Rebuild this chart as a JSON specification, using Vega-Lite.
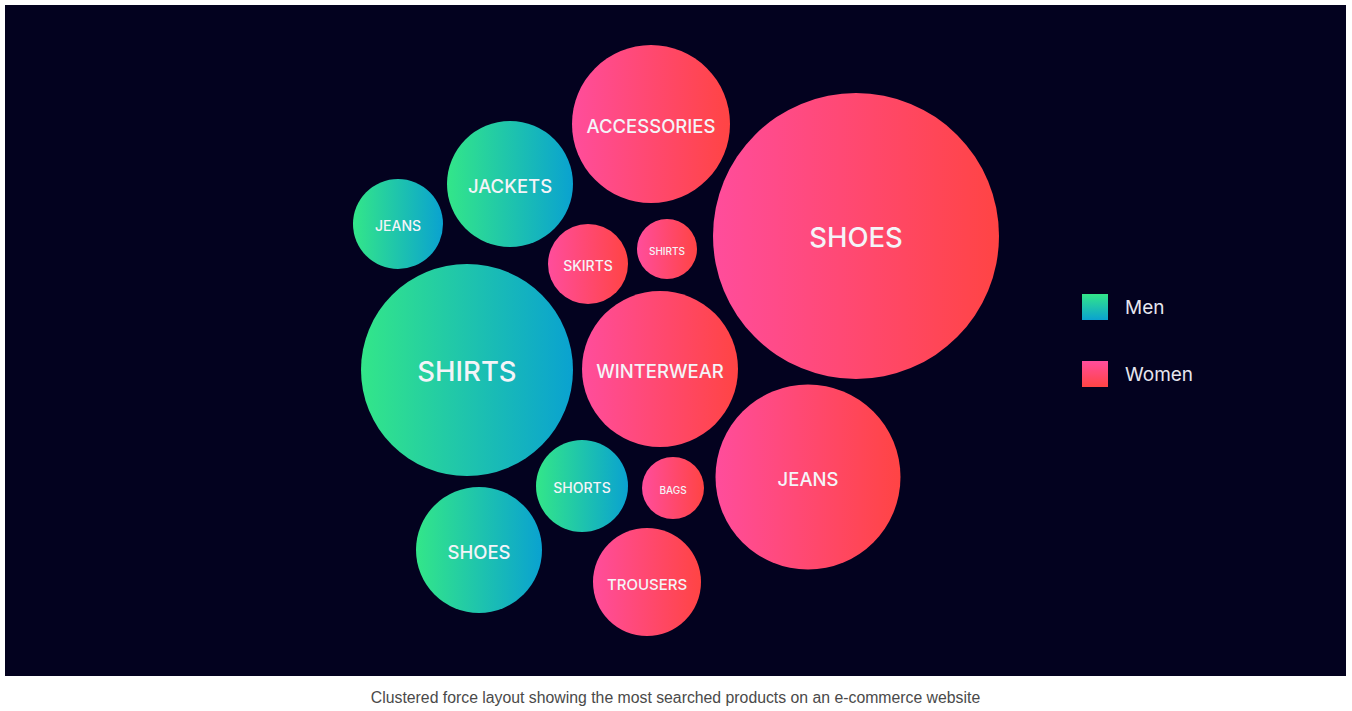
{
  "$schema": "https://vega.github.io/schema/vega-lite/v6.json",
  "width": 1341,
  "height": 671,
  "autosize": {"type": "none"},
  "padding": {"left": 5, "top": 5, "right": 6, "bottom": 35},
  "background": "#ffffff",
  "view": {"fill": "#03021f", "stroke": null},
  "title": {
    "text": "Clustered force layout showing the most searched products on an e-commerce website",
    "orient": "bottom",
    "anchor": "middle",
    "offset": 15,
    "font": "Liberation Sans",
    "fontSize": 15.8,
    "fontWeight": "normal",
    "color": "#4a4a4a"
  },
  "data": {
    "values": [
      {"gender": "Women", "product": "ACCESSORIES", "x": 651, "y": 124, "r": 79},
      {"gender": "Women", "product": "SHOES", "x": 856, "y": 236, "r": 143},
      {"gender": "Men", "product": "JACKETS", "x": 510, "y": 184, "r": 63},
      {"gender": "Men", "product": "JEANS", "x": 398, "y": 224, "r": 45},
      {"gender": "Women", "product": "SKIRTS", "x": 588, "y": 264, "r": 40},
      {"gender": "Women", "product": "SHIRTS", "x": 667, "y": 249, "r": 30},
      {"gender": "Men", "product": "SHIRTS", "x": 467, "y": 370, "r": 106},
      {"gender": "Women", "product": "WINTERWEAR", "x": 660, "y": 369, "r": 78},
      {"gender": "Women", "product": "JEANS", "x": 808, "y": 477, "r": 92.5},
      {"gender": "Men", "product": "SHORTS", "x": 582, "y": 486, "r": 46},
      {"gender": "Women", "product": "BAGS", "x": 673, "y": 488, "r": 31},
      {"gender": "Men", "product": "SHOES", "x": 479, "y": 550, "r": 63},
      {"gender": "Women", "product": "TROUSERS", "x": 647, "y": 582, "r": 54}
    ]
  },
  "encoding": {
    "x": {"field": "x", "type": "quantitative", "axis": null, "scale": {"domain": [5, 1346], "zero": false, "nice": false}},
    "y": {"field": "y", "type": "quantitative", "axis": null, "scale": {"domain": [676, 5], "zero": false, "nice": false}}
  },
  "layer": [
    {
      "transform": [{"filter": "datum.gender === 'Men'"}],
      "mark": {
        "type": "point", "shape": "circle", "filled": true, "opacity": 1, "strokeWidth": 0,
        "fill": {"gradient": "linear", "x1": 0, "y1": 0, "x2": 1, "y2": 0,
          "stops": [{"offset": 0, "color": "#33e689"}, {"offset": 1, "color": "#0aa2d0"}]}
      },
      "encoding": {
        "size": {"field": "r", "type": "quantitative", "legend": null,
          "scale": {"type": "pow", "exponent": 2, "domain": [0, 150], "range": [0, 90000]}}
      }
    },
    {
      "transform": [{"filter": "datum.gender === 'Women'"}],
      "mark": {
        "type": "point", "shape": "circle", "filled": true, "opacity": 1, "strokeWidth": 0,
        "fill": {"gradient": "linear", "x1": 0, "y1": 0, "x2": 1, "y2": 0,
          "stops": [{"offset": 0, "color": "#ff4d9c"}, {"offset": 1, "color": "#ff4444"}]}
      },
      "encoding": {
        "size": {"field": "r", "type": "quantitative", "legend": null,
          "scale": {"type": "pow", "exponent": 2, "domain": [0, 150], "range": [0, 90000]}}
      }
    },
    {
      "mark": {"type": "text", "font": "Inter", "fontWeight": 500, "color": "#f4f4f8", "align": "center", "baseline": "middle", "letterSpacing": 0.6, "dy": 2.5},
      "encoding": {
        "text": {"field": "product"},
        "size": {"field": "r", "type": "quantitative", "legend": null,
          "scale": {"type": "threshold", "domain": [35, 50, 60, 100], "range": [10, 14, 15, 18.5, 27.5]}}
      }
    },
    {
      "data": {"values": [{"label": "Men", "x": 1095, "y": 307}]},
      "mark": {
        "type": "point", "shape": "square", "filled": true, "opacity": 1, "strokeWidth": 0, "size": 676,
        "fill": {"gradient": "linear", "x1": 0, "y1": 0, "x2": 0, "y2": 1,
          "stops": [{"offset": 0, "color": "#33e689"}, {"offset": 1, "color": "#0aa2d0"}]}
      }
    },
    {
      "data": {"values": [{"label": "Women", "x": 1095, "y": 374}]},
      "mark": {
        "type": "point", "shape": "square", "filled": true, "opacity": 1, "strokeWidth": 0, "size": 676,
        "fill": {"gradient": "linear", "x1": 0, "y1": 0, "x2": 0, "y2": 1,
          "stops": [{"offset": 0, "color": "#ff4d9c"}, {"offset": 1, "color": "#ff4444"}]}
      }
    },
    {
      "data": {"values": [{"label": "Men", "x": 1125, "y": 307}, {"label": "Women", "x": 1125, "y": 374}]},
      "mark": {"type": "text", "font": "Inter", "fontSize": 19, "color": "#e6e6ee", "align": "left", "baseline": "middle", "dy": 1},
      "encoding": {"text": {"field": "label"}}
    }
  ],
  "resolve": {"scale": {"size": "independent"}}
}
